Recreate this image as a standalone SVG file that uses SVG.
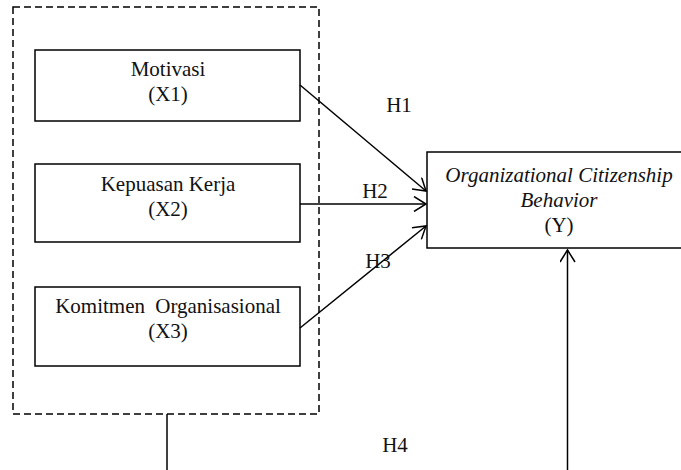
<svg xmlns="http://www.w3.org/2000/svg" width="681" height="470" viewBox="0 0 681 470">
<style>
.box{fill:#fff;stroke:#000;stroke-width:1.5}
.t{font-family:"Liberation Serif","Times New Roman",serif;font-size:21px;fill:#111;text-anchor:middle}
.i{font-style:italic}
.ln{stroke:#000;stroke-width:1.5;fill:none}
</style>
<defs>
<marker id="ah" markerWidth="16" markerHeight="16" refX="13" refY="8" orient="auto" markerUnits="userSpaceOnUse">
<path d="M1,0.5 L13,8 L1,15.5" fill="none" stroke="#000" stroke-width="1.5"/>
</marker>
</defs>
<rect id="group" x="13" y="7" width="306" height="407" fill="none" stroke="#000" stroke-width="1.5" stroke-dasharray="7,4"/>
<g id="x1">
<rect class="box" x="35" y="50" width="265" height="71"/>
<text class="t" x="168" y="76">Motivasi</text>
<text class="t" x="168" y="101">(X1)</text>
</g>
<g id="x2">
<rect class="box" x="35" y="164" width="265" height="78"/>
<text class="t" x="168" y="191">Kepuasan Kerja</text>
<text class="t" x="168" y="216">(X2)</text>
</g>
<g id="x3">
<rect class="box" x="35" y="287" width="265" height="79"/>
<text class="t" x="168" y="313" word-spacing="5">Komitmen Organisasional</text>
<text class="t" x="168" y="338">(X3)</text>
</g>
<g id="y">
<rect class="box" x="427" y="152" width="280" height="96"/>
<text class="t i" x="559" y="182">Organizational Citizenship</text>
<text class="t i" x="559" y="207">Behavior</text>
<text class="t" x="559" y="232">(Y)</text>
</g>
<g id="connectors">
<line class="ln" x1="300" y1="85" x2="426" y2="191" marker-end="url(#ah)"/>
<line class="ln" x1="300" y1="204" x2="426" y2="204" marker-end="url(#ah)"/>
<line class="ln" x1="300" y1="328" x2="426" y2="226" marker-end="url(#ah)"/>
<line class="ln" x1="167" y1="414" x2="167" y2="470"/>
<line class="ln" x1="567.5" y1="470" x2="567.5" y2="250" marker-end="url(#ah)"/>
</g>
<g id="labels">
<text class="t" x="399" y="112">H1</text>
<text class="t" x="375" y="198">H2</text>
<text class="t" x="378" y="268">H3</text>
<text class="t" x="395" y="452">H4</text>
</g>
</svg>
